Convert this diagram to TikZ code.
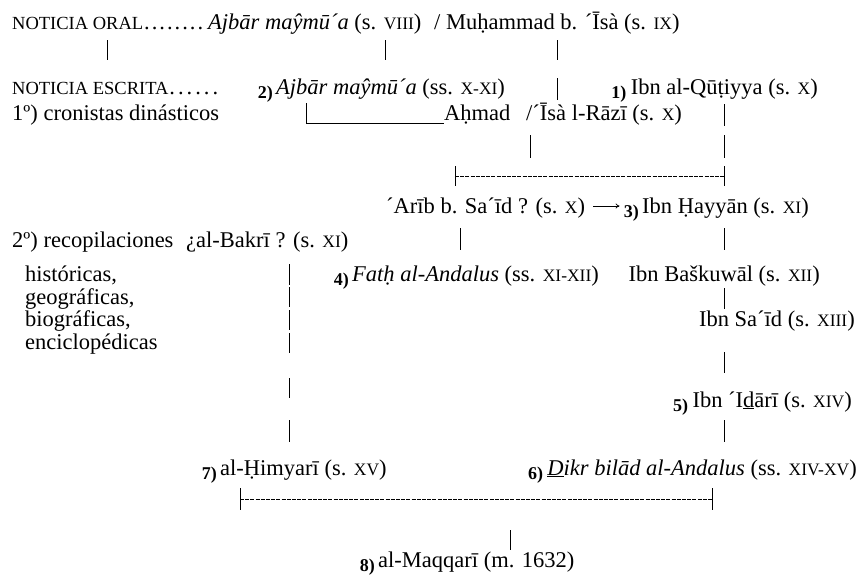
\documentclass[tikz,border=0pt]{standalone}
\usepackage{fontspec}
\setmainfont{Liberation Serif}
\usetikzlibrary{calc,arrows.meta}
\newcommand\fs{\fontsize{22.5pt}{26pt}\selectfont}
\newcommand\sml[1]{{\fontsize{17.5pt}{20pt}\selectfont #1}}
\newcommand\ul[1]{\underline{#1}}
\tikzset{
 txt/.style={inner sep=0pt, anchor=base west, font=\fs},
 nb/.style={inner sep=0pt, anchor=base east, font=\fontsize{18pt}{20pt}\selectfont\bfseries, yshift=-4pt},
 bar/.style={line width=0.8pt},
 dsh/.style={line width=0.8pt, dash pattern=on 4pt off 1.2pt},
}
\begin{document}
\begin{tikzpicture}[x=1pt,y=-1pt]
\useasboundingbox (0,0) rectangle (865,574);
% line 1
\node[txt] (oral) at (12,29) {{\fontsize{18.5pt}{20pt}\selectfont NOTICIA ORAL}\kern1pt.\kern2pt.\kern2pt.\kern2pt.\kern2pt.\kern2pt.\kern2pt.\kern2pt.};
\node[txt] (ajb1) at (208,29) {\textit{Ajbār maŷmū´a} (s. \sml{VIII})};
\node[txt] (muh) at (434,29) {/ Muḥammad b. ´Īsà (s. \sml{IX})};
\draw[bar] (107,40) coordinate (b1a) -- (107,60) coordinate (b1b);
\draw[bar] (385,40) coordinate (b2a) -- (385,60) coordinate (b2b);
\draw[bar] (557,40) coordinate (b3a) -- (557,60) coordinate (b3b);
% line 2
\node[txt] (escr) at (12,94) {{\fontsize{18.5pt}{20pt}\selectfont NOTICIA ESCRITA}\kern1pt.\kern3pt.\kern3pt.\kern3pt.\kern3pt.\kern3pt.};
\node[txt] (ajb2) at (276,94) {\textit{Ajbār maŷmū´a} (ss. \sml{X-XI})};
\node[nb] (n2) at ([xshift=-3pt]ajb2.base west) {2)};
\node[txt, anchor=base east] (qut) at (818,94) {Ibn al-Qūṭiyya (s. \sml{X})};
\node[nb] (n1) at ([xshift=-4pt]qut.base west) {1)};
\draw[bar] (557,78) coordinate (b4a) -- (557,100) coordinate (b4b);
% line 3
\node[txt] (cron) at (12,120) {1º) cronistas dinásticos};
\node[txt] (ahm) at (444,120) {Aḥmad};
\node[txt] (razi) at (526,120) {/´Īsà l-Rāzī (s. \sml{X})};
\coordinate (c3a) at (306,103);
\coordinate (c3b) at (306,123);
\draw[bar] (c3a) -- (c3b) -- (c3b -| ahm.west);
\draw[bar] (724,104) coordinate (b5a) -- (724,126) coordinate (b5b);
\draw[bar] (530,135) coordinate (b6a) -- (530,158) coordinate (b6b);
\draw[bar] (724,135) coordinate (b7a) -- (724,158) coordinate (b7b);
% bracket 1
\coordinate (k1a) at (455,166);
\coordinate (k1b) at (455,186);
\coordinate (k1c) at (724,166);
\coordinate (k1d) at (724,186);
\draw[bar] (k1a) -- (k1b);
\draw[bar] (k1c) -- (k1d);
\draw[dsh] ($(k1a)!0.5!(k1b)$) -- ($(k1c)!0.5!(k1d)$);
% Arib line
\node[txt] (arib) at (386,213) {´Arīb b. Sa´īd ? (s. \sml{X})};
\node[txt] (hay) at (642,213) {Ibn Ḥayyān (s. \sml{XI})};
\node[nb] (n3) at ([xshift=-3pt]hay.base west) {3)};
\draw[-{To[length=4pt,width=5pt]}, line width=0.7pt] ($(arib.base east)+(8,-7)$) -- ($(n3.base west)+(-4,-11)$);
\draw[bar] (460,228) coordinate (b8a) -- (460,250) coordinate (b8b);
\draw[bar] (724,228) coordinate (b9a) -- (724,250) coordinate (b9b);
% recopilaciones
\node[txt] (recop) at (12,247) {2º) recopilaciones};
\node[txt] (bakri) at (186,247) {¿al-Bakrī ? (s. \sml{XI})};
\node[txt] (hist) at (25,281) {históricas,};
\node[txt] (geo) at (25,304) {geográficas,};
\node[txt] (bio) at (25,326) {biográficas,};
\node[txt] (enc) at (25,349) {enciclopédicas};
\node[txt] (fath) at (352,281) {\textit{Fatḥ al-Andalus} (ss. \sml{XI-XII})};
\node[nb] (n4) at ([xshift=-3pt]fath.base west) {4)};
\node[txt, anchor=base east] (bask) at (820,281) {Ibn Baškuwāl (s. \sml{XII})};
\node[txt, anchor=base east] (sais) at (855,326) {Ibn Sa´īd (s. \sml{XIII})};
\node[txt, anchor=base east] (idari) at (852,407) {Ibn ´I\ul{d}ārī (s. \sml{XIV})};
\node[nb] (n5) at ([xshift=-4pt]idari.base west) {5)};
% bars
\foreach \a/\b in {264/285,287/307,310/330,333/353,378/398,420/442}
  \draw[bar] (289,\a) -- (289,\b);
\foreach \a/\b in {288/309,352/373,420/442}
  \draw[bar] (724,\a) -- (724,\b);
% bottom
\node[txt] (himy) at (220,475) {al-Ḥimyarī (s. \sml{XV})};
\node[nb] (n7) at ([xshift=-3pt]himy.base west) {7)};
\node[txt, anchor=base east] (dikr) at (857,475) {\textit{\ul{D}ikr bilād al-Andalus} (ss. \sml{XIV-XV})};
\node[nb] (n6) at ([xshift=-4pt]dikr.base west) {6)};
\coordinate (k2a) at (240,488);
\coordinate (k2b) at (240,510);
\coordinate (k2c) at (712,488);
\coordinate (k2d) at (712,510);
\draw[bar] (k2a) -- (k2b);
\draw[bar] (k2c) -- (k2d);
\draw[dsh] ($(k2a)!0.5!(k2b)$) -- ($(k2c)!0.5!(k2d)$);
\draw[bar] (510,530) coordinate (b10a) -- (510,550) coordinate (b10b);
\node[txt] (maq) at (378,567) {al-Maqqarī (m. 1632)};
\node[nb] (n8) at ([xshift=-3pt]maq.base west) {8)};
\end{tikzpicture}
\end{document}
